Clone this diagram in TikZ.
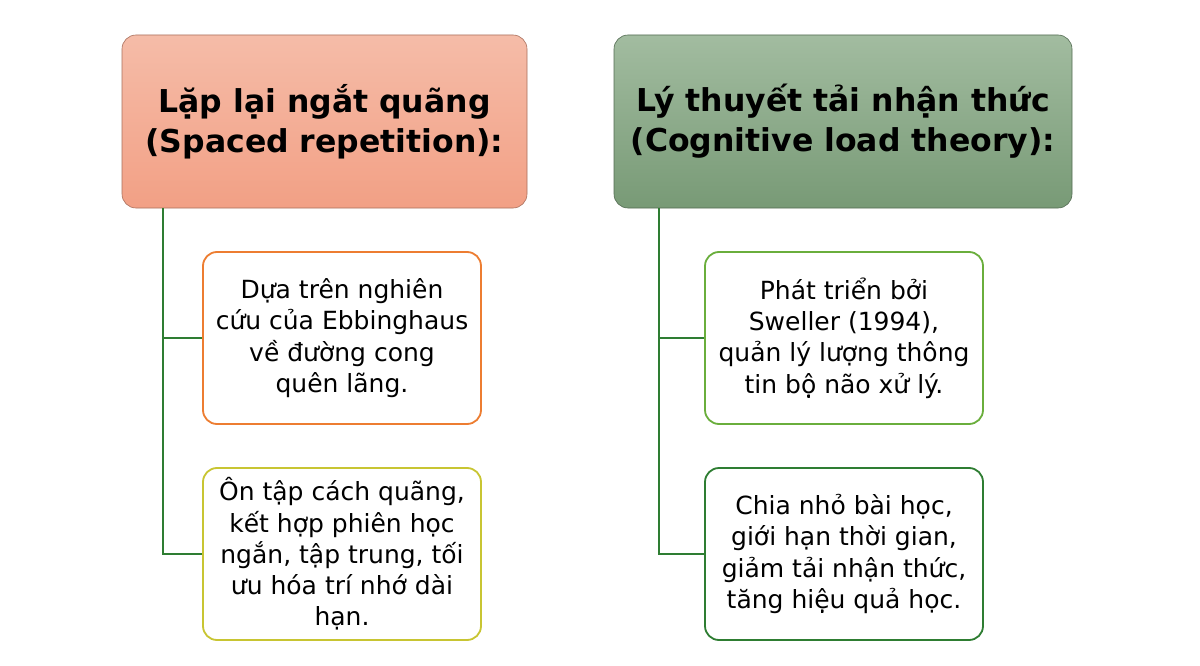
\documentclass[tikz,border=0pt]{standalone}
\usepackage{fontspec}
\setmainfont{DejaVu Sans}
\begin{document}
\begin{tikzpicture}[x=1pt,y=-1pt,
  header/.style={draw=#1!70!black, line width=0.6pt, rounded corners=14pt, minimum height=173pt, align=center, font=\fontsize{31.5}{40}\selectfont\bfseries, text=black},
  child/.style={draw=#1, fill=white, line width=1.8pt, rounded corners=14pt, minimum width=278pt, minimum height=172pt, align=center, font=\fontsize{25}{31.3}\selectfont, text=black},
  conn/.style={draw=treeg, line width=1.8pt}]
\definecolor{treeg}{HTML}{2E7D32}
\definecolor{salT}{HTML}{F5BCA8}
\definecolor{salB}{HTML}{F2A085}
\definecolor{grnT}{HTML}{A2BCA0}
\definecolor{grnB}{HTML}{789A76}
\definecolor{cOrange}{HTML}{ED7D31}
\definecolor{cYellow}{HTML}{C8C532}
\definecolor{cLgreen}{HTML}{6AAE3C}
\definecolor{cDgreen}{HTML}{2E7D32}
\useasboundingbox[fill=white] (0,0) rectangle (1200,666);
% headers
\node[header=salB, top color=salT, bottom color=salB, minimum width=405pt] (lh) at (324.5,121.5) {Lặp lại ngắt quãng\\(Spaced repetition):};
\node[header=grnB, top color=grnT, bottom color=grnB, minimum width=458pt] (rh) at (843,121.5) {Lý thuyết tải nhận thức\\(Cognitive load theory):};
% children
\node[child=cOrange] (lc1) at (342,338) {Dựa trên nghiên\\cứu của Ebbinghaus\\về đường cong\\quên lãng.};
\node[child=cYellow] (lc2) at (342,554) {Ôn tập cách quãng,\\kết hợp phiên học\\ngắn, tập trung, tối\\ưu hóa trí nhớ dài\\hạn.};
\node[child=cLgreen] (rc1) at (844,338) {Phát triển bởi\\Sweller (1994),\\quản lý lượng thông\\tin bộ não xử lý.};
\node[child=cDgreen] (rc2) at (844,554) {Chia nhỏ bài học,\\giới hạn thời gian,\\giảm tải nhận thức,\\tăng hiệu quả học.};
% connectors
\draw[conn] (lh.south west) ++(41,0) |- (lc1.west);
\draw[conn] (lh.south west) ++(41,0) |- (lc2.west);
\draw[conn] (rh.south west) ++(45,0) |- (rc1.west);
\draw[conn] (rh.south west) ++(45,0) |- (rc2.west);
\end{tikzpicture}
\end{document}
